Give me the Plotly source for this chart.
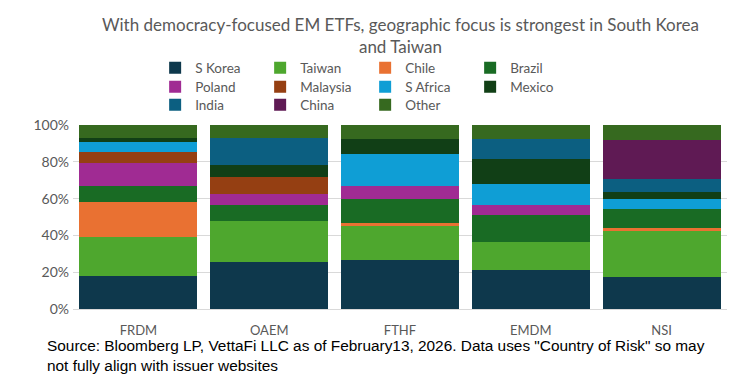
import plotly.graph_objects as go

funds = ["FRDM", "OAEM", "FTHF", "EMDM", "NSI"]
countries = ["S Korea", "Taiwan", "Chile", "Brazil", "Poland", "Malaysia",
             "S Africa", "Mexico", "India", "China", "Other"]

s_korea  = [17.7, 25.5, 26.9, 21.3, 17.4]
taiwan   = [21.7, 22.2, 18.4, 15.0, 24.8]
chile    = [18.6, 0.0, 1.6, 0.0, 2.0]
brazil   = [9.0, 8.7, 13.0, 14.8, 10.1]
poland   = [12.1, 6.0, 6.9, 5.6, 0.0]
malaysia = [6.0, 9.6, 0.0, 0.0, 0.0]
s_africa = [5.8, 0.0, 17.4, 11.0, 5.4]
mexico   = [2.2, 6.3, 8.1, 13.7, 3.8]
india    = [0.0, 14.8, 0.0, 11.2, 7.1]
china    = [0.0, 0.0, 0.0, 0.0, 21.3]
other    = [6.9, 6.9, 7.6, 7.2, 8.1]

series = [s_korea, taiwan, chile, brazil, poland, malaysia,
          s_africa, mexico, india, china, other]
colors = ["#0E384C", "#4EA72E", "#E97132", "#196B24", "#A02B93", "#953F12",
          "#0F9ED5", "#113F16", "#0C5F81", "#5F1A54", "#36691F"]

y_ticks = [0, 20, 40, 60, 80, 100]
y_tick_labels = ["0%", "20%", "40%", "60%", "80%", "100%"]

legend_names = ["legend", "legend2", "legend3"]

fig = go.Figure()
for i, (name, vals, col) in enumerate(zip(countries, series, colors)):
    fig.add_trace(go.Bar(x=funds, y=vals, name=name, legend=legend_names[i // 4],
                         marker=dict(color=col, line=dict(width=0))))

font_main = "Lato, 'Open Sans', sans-serif"
leg_font = dict(family=font_main, size=13.5, color="#595959")
row_y = [1.3098, 1.2065, 1.1087]
legends = {}
for key, yy in zip(legend_names, row_y):
    legends[key] = dict(orientation="h", x=0.1256, xanchor="left", y=yy, yanchor="middle",
                        entrywidth=60, traceorder="normal", bgcolor="rgba(0,0,0,0)",
                        font=leg_font)

fig.update_layout(
    width=750, height=383,
    barmode="stack", bargap=0.098,
    paper_bgcolor="white", plot_bgcolor="white",
    margin=dict(l=73, r=23, t=125, b=74),
    xaxis=dict(showgrid=False, showline=True, linecolor="#D9D9D9",
               ticklabelstandoff=9,
               tickfont=dict(family=font_main, size=13, color="#595959")),
    yaxis=dict(range=[0, 100], tickvals=y_ticks, ticktext=y_tick_labels,
               showgrid=True, gridcolor="#D9D9D9", zeroline=False,
               ticklabelstandoff=3,
               tickfont=dict(family=font_main, size=14, color="#595959"),
               ticks="", ticklen=0),
    annotations=[
        dict(text="With democracy-focused EM ETFs, geographic focus is strongest in South Korea<br>and Taiwan",
             xref="paper", yref="paper", x=0.5, y=1.4837, xanchor="center", yanchor="middle",
             align="center", showarrow=False,
             font=dict(family=font_main, size=17, color="#595959")),
        dict(text="Source: Bloomberg LP, VettaFi LLC as of February13, 2026. Data uses \"Country of Risk\" so may<br>not fully align with issuer websites",
             xref="paper", yref="paper", x=-0.043, y=-0.142,
             xanchor="left", yanchor="top", align="left", showarrow=False,
             font=dict(family="'Liberation Sans', Arial, sans-serif", size=15.4, color="black")),
    ],
    **legends,
)

fig.write_html("out.html")
